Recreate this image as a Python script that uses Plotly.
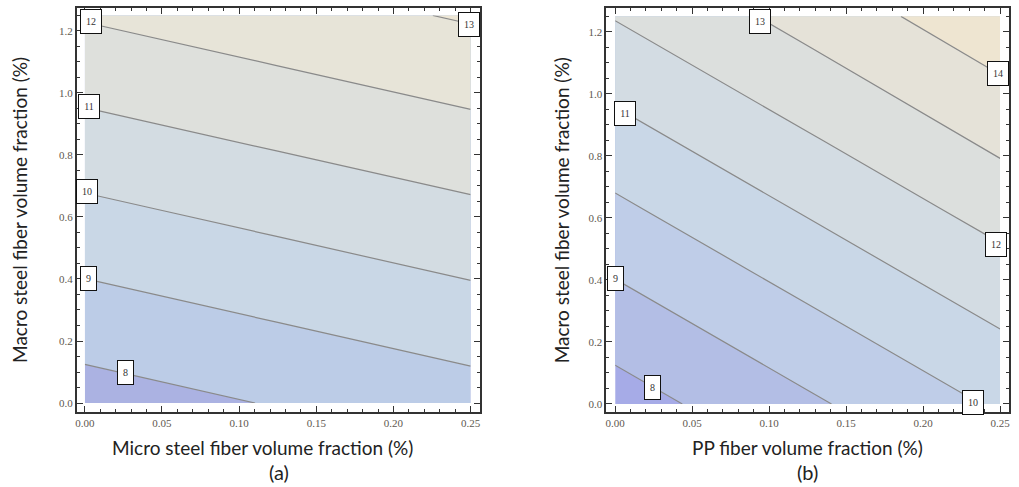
import plotly.graph_objects as go

# ---- data ----
x_grid = [0.0, 0.125, 0.25]
y_grid = [0.0, 0.625, 1.25]

# (a) micro steel fiber vs macro steel fiber
z_a = [
    [7.55, 8.06, 8.57],
    [9.81, 10.32, 10.83],
    [12.08, 12.59, 13.10],
]
# (b) PP fiber vs macro steel fiber
z_b = [
    [7.55, 8.84, 10.13],
    [9.80, 11.09, 12.38],
    [12.05, 13.34, 14.70],
]

labels_a_text = ["12", "11", "10", "9", "8", "13"]
labels_a_x = [0.0042, 0.003, 0.0015, 0.0024, 0.0265, 0.249]
labels_a_y = [1.232, 0.956, 0.681, 0.402, 0.097, 1.22]

labels_b_text = ["13", "14", "11", "12", "9", "8", "10"]
labels_b_x = [0.0942, 0.2484, 0.0062, 0.2474, 0.0003, 0.0243, 0.2325]
labels_b_y = [1.235, 1.066, 0.937, 0.513, 0.403, 0.053, 0.006]

x_ticks_a = [0.0, 0.05, 0.10, 0.15, 0.20, 0.25]
x_ticklabels = ["0.00", "0.05", "0.10", "0.15", "0.20", "0.25"]
y_ticks = [0.0, 0.2, 0.4, 0.6, 0.8, 1.0, 1.2]
y_ticklabels = ["0.0", "0.2", "0.4", "0.6", "0.8", "1.0", "1.2"]

x_title_a = "Micro steel fiber volume fraction (%)"
x_title_b = "PP fiber volume fraction (%)"
y_title = "Macro steel fiber volume fraction (%)"
panel_a = "(a)"
panel_b = "(b)"

# ---- styling: band colours, low -> high ----
bands_a = ["#abb2e2", "#bccce7", "#c9d7e6", "#d3dce2", "#dee0dc", "#e7e4d8", "#ede6d4"]
bands_b = ["#a6abe7", "#b3bee5", "#bfcde8", "#c9d7e7", "#d3dce3", "#dcdfdd", "#e5e2d8", "#eee5d1"]


def step_scale(cols):
    n = len(cols)
    return [[i / (n - 1), c] for i, c in enumerate(cols)]


fig = go.Figure()


def add_contour(z, xa, ya, end, cols):
    fig.add_trace(go.Contour(
        x=x_grid, y=y_grid, z=z, xaxis=xa, yaxis=ya,
        colorscale=step_scale(cols),
        showscale=False, hoverinfo="skip",
        contours=dict(start=8, end=end, size=1, coloring="fill"),
        line=dict(color="#8a8a8a", width=1.2),
    ))


add_contour(z_a, "x", "y", 13, bands_a)
add_contour(z_b, "x2", "y2", 14, bands_b)

W, H = 1019, 487
ytop, ybot = 1 - 8 / H, 1 - 412 / H

tickfont = dict(family="Liberation Serif, serif", size=11, color="#5e5850")
common_x = dict(
    tickvals=x_ticks_a, ticktext=x_ticklabels, ticks="inside", ticklen=6,
    tickwidth=1, tickcolor="#333", showline=True, linecolor="#333", linewidth=1.5,
    mirror="ticks", showgrid=False, zeroline=False, tickfont=tickfont,
    minor=dict(dtick=0.01, tick0=0, ticks="inside", ticklen=3, tickcolor="#333", showgrid=False),
    fixedrange=True,
)
common_y = dict(
    tickvals=y_ticks, ticktext=y_ticklabels, ticks="inside", ticklen=6,
    tickwidth=1, tickcolor="#333", showline=True, linecolor="#333", linewidth=1.5,
    mirror="ticks", showgrid=False, zeroline=False, tickfont=tickfont,
    minor=dict(dtick=0.05, tick0=0, ticks="inside", ticklen=3, tickcolor="#333", showgrid=False),
    fixedrange=True,
)

fig.update_layout(
    width=W, height=H,
    margin=dict(l=0, r=0, t=0, b=0),
    paper_bgcolor="white", plot_bgcolor="white",
    showlegend=False,
    xaxis=dict(domain=[75 / W, 479 / W], range=[-0.0052, 0.2558], anchor="y", **common_x),
    yaxis=dict(domain=[ybot, ytop], range=[-0.029, 1.274], anchor="x", **common_y),
    xaxis2=dict(domain=[606 / W, 1010 / W], range=[-0.0058, 0.2558], anchor="y2", **common_x),
    yaxis2=dict(domain=[ybot, ytop], range=[-0.026, 1.277], anchor="x2", **common_y),
)

ann = []
lab_font = dict(family="Liberation Serif, serif", size=10, color="#333")
for texts, xs, ys, xr, yr in [
    (labels_a_text, labels_a_x, labels_a_y, "x", "y"),
    (labels_b_text, labels_b_x, labels_b_y, "x2", "y2"),
]:
    for t, xv, yv in zip(texts, xs, ys):
        ann.append(dict(
            x=xv, y=yv, xref=xr, yref=yr, text=t, showarrow=False,
            xanchor="center", yanchor="middle", font=lab_font,
            bgcolor="white", bordercolor="#111", borderwidth=1, borderpad=2,
            width=16 if len(t) > 1 else 11, height=19,
        ))

title_font = dict(family="Lato, sans-serif", size=19, color="#222")
panel_font = dict(family="Lato, sans-serif", size=20, color="#222")
ann += [
    dict(x=261 / W, y=1 - 447 / H, xref="paper", yref="paper", text=x_title_a,
         showarrow=False, font=title_font, xanchor="center", yanchor="middle"),
    dict(x=278 / W, y=1 - 472 / H, xref="paper", yref="paper", text=panel_a,
         showarrow=False, font=panel_font, xanchor="center", yanchor="middle"),
    dict(x=808 / W, y=1 - 447 / H, xref="paper", yref="paper", text=x_title_b,
         showarrow=False, font=title_font, xanchor="center", yanchor="middle"),
    dict(x=808 / W, y=1 - 472 / H, xref="paper", yref="paper", text=panel_b,
         showarrow=False, font=panel_font, xanchor="center", yanchor="middle"),
    dict(x=17 / W, y=1 - 210 / H, xref="paper", yref="paper", text=y_title,
         showarrow=False, font=title_font, textangle=-90, xanchor="center", yanchor="middle"),
    dict(x=561 / W, y=1 - 210 / H, xref="paper", yref="paper", text=y_title,
         showarrow=False, font=title_font, textangle=-90, xanchor="center", yanchor="middle"),
]
fig.update_layout(annotations=ann)

fig.write_html("out.html")
